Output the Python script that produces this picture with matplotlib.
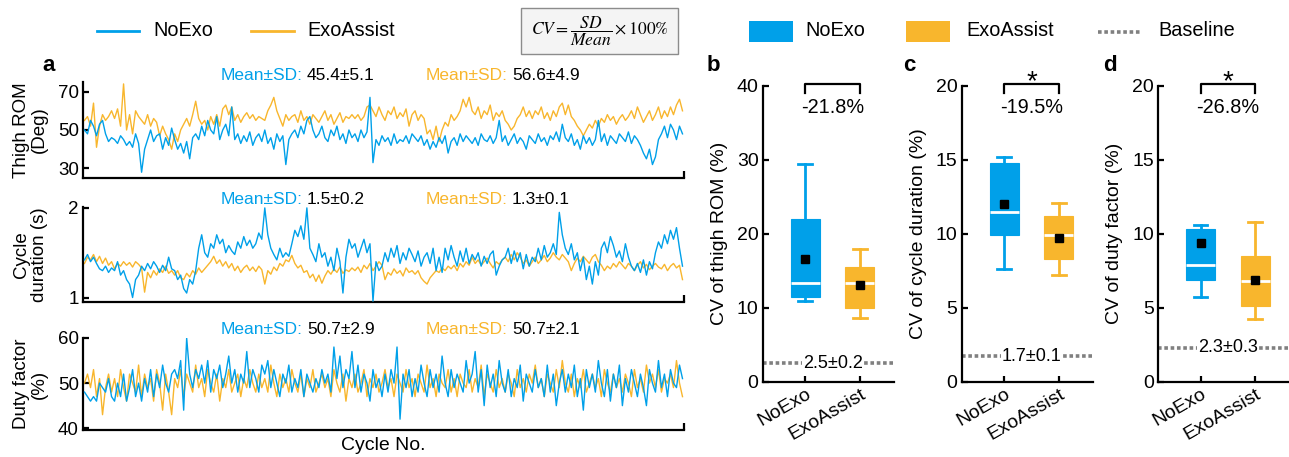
import numpy as np
import matplotlib
matplotlib.use('Agg')
import matplotlib.pyplot as plt
from matplotlib.lines import Line2D
from matplotlib.patches import Rectangle

plt.rcParams['font.family'] = ['Liberation Sans', 'DejaVu Sans']
plt.rcParams['mathtext.fontset'] = 'stix'

BLUE = '#00A0E9'
ORANGE = '#F8B62D'
GRAY = '#808080'

groups = ['NoExo', 'ExoAssist']

# ---------------- panel a: per-cycle series ----------------
thigh_noexo = [
    50, 48, 55, 52, 47, 53, 55, 48, 44, 46,
    45, 43, 47, 45, 42, 44, 41, 48, 43, 28,
    40, 45, 50, 44, 47, 48, 40, 46, 42, 51,
    45, 40, 43, 38, 44, 35, 46, 48, 45, 52,
    47, 55, 50, 48, 57, 45, 50, 53, 47, 62,
    45, 48, 43, 47, 44, 49, 42, 46, 48, 44,
    50, 43, 46, 40, 48, 44, 47, 32, 45, 48,
    50, 46, 52, 48, 55, 57, 50, 46, 48, 52,
    46, 44, 50, 47, 52, 45, 48, 43, 50, 46,
    48, 44, 50, 46, 49, 67, 33, 45, 42, 47,
    44, 46, 42, 48, 43, 45, 44, 47, 43, 48,
    46, 44, 47, 42, 45, 40, 44, 41, 46, 43,
    47, 38, 44, 46, 42, 48, 44, 47, 45, 43,
    46, 42, 48, 45, 44, 47, 43, 46, 55, 44,
    47, 42, 45, 48, 43, 46, 44, 40, 47, 45,
    43, 48, 44, 46, 42, 47, 45, 49, 44, 53,
    46, 44, 48, 42, 45, 40, 47, 43, 46, 42,
    45, 55, 44, 48, 42, 47, 45, 43, 48, 46,
    44, 49, 43, 47, 45, 42, 38, 35, 40, 32,
    36, 45, 48, 52, 46, 53, 50, 45, 52, 48,
]
thigh_exo = [
    55, 57, 52, 64, 41, 52, 58, 55, 57, 60,
    56, 61, 52, 74, 50, 58, 48, 60, 57, 55,
    53, 58, 52, 56, 54, 47, 52, 48, 45, 40,
    48, 44, 50, 53, 56, 52, 58, 65, 56, 53,
    55, 50, 57, 53, 58, 52, 61, 63, 58, 62,
    55, 58, 54, 57, 59, 56, 58, 55, 57, 56,
    55, 60, 63, 67, 60, 56, 52, 58, 55, 57,
    58, 54, 60, 55, 57, 53, 58, 56, 54, 57,
    60, 55, 58, 53, 56, 59, 54, 57, 56, 58,
    56, 58, 55, 57, 62, 63, 60, 57, 62, 58,
    55, 60, 58, 62, 56, 59, 57, 61, 52, 58,
    60, 55, 58, 56, 48, 50, 45, 52, 44, 50,
    54, 52, 58, 55, 57, 60, 66, 62, 67, 60,
    58, 62, 56, 60, 58, 63, 55, 59, 57, 60,
    55, 53, 50, 52, 56, 58, 62, 57, 60, 56,
    60, 58, 62, 56, 59, 55, 60, 57, 62, 64,
    58, 63, 57, 55, 52, 50, 47, 50, 53, 51,
    55, 52, 56, 54, 58, 55, 57, 53, 56, 58,
    55, 57, 60, 56, 62, 58, 54, 57, 60, 55,
    58, 62, 56, 60, 57, 62, 58, 63, 66, 60,
]
dur_noexo = [
    1.42, 1.48, 1.40, 1.45, 1.38, 1.32, 1.30, 1.35, 1.28, 1.33,
    1.30, 1.40, 1.25, 1.30, 1.20, 1.15, 1.00, 1.20, 1.25, 1.35,
    1.30, 1.38, 1.32, 1.40, 1.35, 1.28, 1.36, 1.30, 1.45, 1.32,
    1.30, 1.20, 1.25, 1.10, 1.05, 1.20, 1.15, 1.30, 1.55, 1.70,
    1.50, 1.45, 1.60, 1.55, 1.70, 1.60, 1.65, 1.50, 1.58, 1.52,
    1.48, 1.62, 1.55, 1.68, 1.58, 1.64, 1.55, 1.60, 1.72, 1.65,
    2.00, 1.70, 1.55, 1.48, 1.42, 1.55, 1.45, 1.50, 1.46, 1.60,
    1.75, 1.68, 1.80, 1.65, 2.00, 1.55, 1.48, 1.40, 1.60, 1.45,
    1.50, 1.35, 1.45, 1.30, 1.55, 1.40, 1.05, 1.45, 1.65, 1.55,
    1.60, 1.45, 1.55, 1.65, 1.50, 1.60, 0.96, 1.40, 1.30, 1.35,
    1.50, 1.40, 1.55, 1.45, 1.58, 1.38, 1.50, 1.42, 1.55, 1.48,
    1.40, 1.52, 1.35, 1.45, 1.50, 1.38, 1.55, 1.30, 1.45, 1.28,
    1.55, 1.42, 1.58, 1.45, 1.35, 1.52, 1.40, 1.55, 1.38, 1.48,
    1.42, 1.50, 1.35, 1.46, 1.38, 1.48, 1.52, 1.25, 1.35, 1.42,
    1.45, 1.55, 1.38, 1.52, 1.40, 1.50, 1.32, 1.48, 1.35, 1.45,
    1.40, 1.55, 1.42, 1.58, 1.45, 1.50, 1.60, 1.48, 1.95, 1.70,
    1.55, 1.48, 1.60, 1.42, 1.50, 1.30, 1.45, 1.20, 1.35, 1.15,
    1.40, 1.25, 1.55, 1.62, 1.50, 1.68, 1.58, 1.45, 1.52, 1.40,
    1.60, 1.45, 1.35, 1.30, 1.38, 1.28, 1.42, 1.25, 1.40, 1.32,
    1.50, 1.62, 1.55, 1.70, 1.60, 1.75, 1.65, 1.78, 1.55, 1.35,
]
dur_exo = [
    1.38, 1.45, 1.42, 1.48, 1.40, 1.46, 1.38, 1.44, 1.36, 1.40,
    1.32, 1.38, 1.35, 1.40, 1.36, 1.39, 1.34, 1.40, 1.37, 1.33,
    1.06, 1.28, 1.22, 1.30, 1.25, 1.32, 1.28, 1.35, 1.27, 1.30,
    1.25, 1.30, 1.22, 1.20, 1.27, 1.23, 1.30, 1.26, 1.33, 1.28,
    1.32, 1.36, 1.40, 1.46, 1.38, 1.42, 1.35, 1.40, 1.33, 1.38,
    1.30, 1.35, 1.28, 1.33, 1.36, 1.30, 1.34, 1.29, 1.35, 1.31,
    1.15, 1.30, 1.26, 1.34, 1.30, 1.38, 1.35, 1.42, 1.40, 1.47,
    1.38, 1.33, 1.36, 1.28, 1.30, 1.22, 1.26, 1.18, 1.25, 1.16,
    1.24, 1.30, 1.26, 1.32, 1.28, 1.34, 1.27, 1.31, 1.29, 1.33,
    1.30, 1.34, 1.28, 1.36, 1.32, 1.38, 1.30, 1.35, 1.40, 1.36,
    1.20, 1.28, 1.25, 1.32, 1.27, 1.30, 1.24, 1.33, 1.28, 1.30,
    1.26, 1.30, 1.22, 1.18, 1.15, 1.22, 1.26, 1.30, 1.28, 1.33,
    1.30, 1.35, 1.32, 1.36, 1.30, 1.38, 1.34, 1.40, 1.36, 1.45,
    1.38, 1.42, 1.36, 1.40, 1.44, 1.38, 1.33, 1.40, 1.37, 1.42,
    1.45, 1.40, 1.48, 1.42, 1.50, 1.45, 1.38, 1.42, 1.35, 1.40,
    1.45, 1.38, 1.42, 1.47, 1.40, 1.44, 1.50, 1.45, 1.42, 1.48,
    1.44, 1.40, 1.30, 1.38, 1.44, 1.40, 1.46, 1.42, 1.38, 1.45,
    1.48, 1.40, 1.36, 1.30, 1.35, 1.32, 1.38, 1.34, 1.40, 1.36,
    1.32, 1.38, 1.35, 1.30, 1.36, 1.40, 1.33, 1.37, 1.31, 1.35,
    1.38, 1.34, 1.32, 1.37, 1.30, 1.35, 1.38, 1.33, 1.36, 1.20,
]
duty_noexo = [
    48, 47, 46, 47, 46, 50, 49, 48, 51, 47,
    46, 50, 47, 52, 46, 49, 53, 47, 50, 46,
    51, 48, 53, 47, 52, 49, 54, 50, 48, 52,
    53, 51, 55, 44, 60, 52, 49, 53, 51, 54,
    50, 55, 48, 53, 51, 54, 49, 52, 56, 50,
    53, 48, 52, 50, 57, 49, 53, 51, 48, 54,
    52, 55, 49, 53, 50, 47, 52, 50, 54, 48,
    51, 49, 53, 47, 52, 50, 48, 51, 49, 53,
    50, 52, 48, 58, 51, 56, 49, 53, 51, 57,
    49, 54, 48, 52, 50, 46, 53, 49, 51, 47,
    52, 48, 53, 50, 58, 42, 52, 49, 53, 47,
    51, 48, 54, 50, 47, 53, 49, 52, 48, 56,
    50, 47, 53, 49, 52, 50, 48, 55, 50, 52,
    57, 48, 53, 45, 54, 49, 52, 47, 55, 50,
    48, 53, 47, 51, 49, 54, 46, 52, 50, 48,
    53, 49, 51, 47, 54, 48, 52, 45, 50, 53,
    48, 52, 49, 54, 47, 51, 44, 53, 49, 52,
    48, 55, 50, 47, 53, 46, 52, 49, 54, 45,
    51, 48, 53, 50, 47, 52, 49, 45, 53, 50,
    48, 55, 49, 52, 47, 53, 50, 49, 54, 51,
]
duty_exo = [
    50, 52, 49, 53, 47, 51, 43, 49, 52, 48,
    51, 47, 53, 49, 46, 52, 50, 48, 54, 47,
    52, 49, 51, 46, 53, 50, 44, 52, 48, 43,
    51, 49, 53, 47, 52, 50, 48, 54, 49, 51,
    47, 53, 50, 48, 52, 46, 51, 49, 53, 48,
    50, 52, 47, 51, 49, 53, 50, 48, 52, 49,
    51, 48, 54, 50, 47, 52, 49, 51, 48, 53,
    50, 48, 52, 47, 51, 49, 53, 48, 50, 52,
    49, 51, 47, 53, 50, 48, 52, 46, 51, 49,
    52, 48, 50, 53, 47, 51, 49, 52, 48, 50,
    53, 49, 51, 47, 52, 50, 48, 53, 49, 51,
    47, 52, 50, 48, 54, 49, 51, 47, 52, 50,
    49, 53, 48, 51, 47, 52, 50, 49, 53, 48,
    51, 49, 54, 47, 52, 50, 48, 53, 49, 51,
    48, 52, 50, 47, 53, 49, 51, 48, 52, 50,
    54, 49, 51, 47, 52, 50, 48, 53, 49, 55,
    50, 48, 52, 47, 51, 49, 53, 48, 50, 52,
    49, 51, 47, 53, 50, 48, 52, 49, 51, 48,
    52, 50, 47, 53, 49, 51, 48, 54, 50, 52,
    49, 53, 48, 51, 50, 52, 49, 55, 50, 47,
]

series_noexo = [thigh_noexo, dur_noexo, duty_noexo]
series_exo = [thigh_exo, dur_exo, duty_exo]
series_labels = ['Thigh ROM\n(Deg)', 'Cycle\nduration (s)', 'Duty factor\n(%)']
series_ylims = [(25, 75), (0.95, 2.01), (39.6, 60)]
series_yticks = [[30, 50, 70], [1, 2], [40, 50, 60]]
meansd_noexo = ['45.4±5.1', '1.5±0.2', '50.7±2.9']
meansd_exo = ['56.6±4.9', '1.3±0.1', '50.7±2.1']

# ---------------- panels b-d: CV box plots ----------------
cv_labels = ['CV of thigh ROM (%)', 'CV of cycle duration (%)', 'CV of duty factor (%)']
cv_ymax = [40, 20, 20]
cv_yticks = [[0, 10, 20, 30, 40], [0, 5, 10, 15, 20], [0, 5, 10, 15, 20]]
cv_whislo_noexo = [10.9, 7.6, 5.7]
cv_q1_noexo = [11.5, 9.9, 6.9]
cv_med_noexo = [13.4, 11.5, 7.9]
cv_q3_noexo = [22.0, 14.8, 10.3]
cv_whishi_noexo = [29.4, 15.2, 10.6]
cv_mean_noexo = [16.6, 12.0, 9.4]
cv_whislo_exo = [8.6, 7.2, 4.2]
cv_q1_exo = [10.0, 8.3, 5.1]
cv_med_exo = [13.3, 9.9, 6.8]
cv_q3_exo = [15.5, 11.2, 8.5]
cv_whishi_exo = [18.0, 12.1, 10.8]
cv_mean_exo = [13.1, 9.7, 6.9]
baseline_mean = [2.5, 1.7, 2.3]
baseline_sd = [0.2, 0.1, 0.3]
pct_change = ['-21.8%', '-19.5%', '-26.8%']
significance = ['', '*', '*']

# ---------------- figure ----------------
W, H = 1289, 457
fig = plt.figure(figsize=(W / 100, H / 100), dpi=100)


def fx(px):
    return px / W


def fy(py):
    return 1 - py / H


def style_axes(ax, lsize):
    for s in ['top', 'right']:
        ax.spines[s].set_visible(False)
    for s in ['left', 'bottom']:
        ax.spines[s].set_linewidth(1.6)
        ax.spines[s].set_color('black')
    ax.tick_params(direction='in', length=4, width=1.6, labelsize=lsize, pad=3)


rows_px = [(82, 178), (207, 302), (338, 430)]
text_y_px = [76, 200, 330]
N = len(thigh_noexo)
x = np.arange(1, N + 1)
for i in range(3):
    top, bot = rows_px[i]
    ax = fig.add_axes([fx(83), fy(bot), fx(684) - fx(83), (bot - top) / H])
    style_axes(ax, 13.5)
    ax.plot(x, series_exo[i], color=ORANGE, lw=1.0, zorder=2)
    ax.plot(x, series_noexo[i], color=BLUE, lw=1.0, zorder=3)
    ax.set_xlim(0.5, N + 0.5)
    ax.set_ylim(*series_ylims[i])
    ax.set_yticks(series_yticks[i])
    ax.set_yticklabels([str(v) for v in series_yticks[i]])
    ax.set_xticks([N + 0.5])
    ax.set_xticklabels([])
    ax.tick_params(axis='x', length=5)
    ax.set_ylabel(series_labels[i], fontsize=13.5, va='center', linespacing=1.1)
    ax.yaxis.set_label_coords(-0.087, 0.5)
    yy = fy(text_y_px[i])
    fig.text(fx(303), yy, 'Mean±SD:', color=BLUE, fontsize=12.5, ha='right', va='center')
    fig.text(fx(307), yy, meansd_noexo[i], color='black', fontsize=12.5, ha='left', va='center')
    fig.text(fx(508), yy, 'Mean±SD:', color=ORANGE, fontsize=12.5, ha='right', va='center')
    fig.text(fx(512), yy, meansd_exo[i], color='black', fontsize=12.5, ha='left', va='center')
    if i == 2:
        ax.set_xlabel('Cycle No.', fontsize=14, va='center')
        ax.xaxis.set_label_coords(0.5, -(445 - 430) / (bot - top))

box_left_px = [762.7, 961.7, 1158]
box_bot_px, box_top_px = 381.5, 86
colors = [BLUE, ORANGE]
for i in range(3):
    ax = fig.add_axes([fx(box_left_px[i]), fy(box_bot_px), 131 / W, (box_bot_px - box_top_px) / H])
    style_axes(ax, 14)
    stats = [
        dict(med=cv_med_noexo[i], q1=cv_q1_noexo[i], q3=cv_q3_noexo[i],
             whislo=cv_whislo_noexo[i], whishi=cv_whishi_noexo[i],
             mean=cv_mean_noexo[i], fliers=[], label=groups[0]),
        dict(med=cv_med_exo[i], q1=cv_q1_exo[i], q3=cv_q3_exo[i],
             whislo=cv_whislo_exo[i], whishi=cv_whishi_exo[i],
             mean=cv_mean_exo[i], fliers=[], label=groups[1]),
    ]
    bp = ax.bxp(stats, positions=[1, 2], widths=0.53, capwidths=0.25,
                patch_artist=True, showmeans=True, showfliers=False,
                manage_ticks=False,
                medianprops=dict(color='white', lw=2),
                meanprops=dict(marker='s', markerfacecolor='black',
                               markeredgecolor='black', markersize=6))
    for j, c in enumerate(colors):
        bp['boxes'][j].set_facecolor(c)
        bp['boxes'][j].set_edgecolor(c)
        bp['boxes'][j].set_linewidth(0.8)
        for k in (2 * j, 2 * j + 1):
            bp['whiskers'][k].set_color(c)
            bp['whiskers'][k].set_linewidth(2)
            bp['caps'][k].set_color(c)
            bp['caps'][k].set_linewidth(2)
    for m in bp['means']:
        m.set_zorder(5)
    ax.axhline(baseline_mean[i], color=GRAY, lw=2.6, ls=(0, (1, 0.75)), zorder=1)
    ax.text(1.5, baseline_mean[i], f'{baseline_mean[i]}±{baseline_sd[i]}',
            ha='center', va='center', fontsize=13, zorder=2,
            bbox=dict(boxstyle='square,pad=0.05', fc='white', ec='none'))
    ymax = cv_ymax[i]
    ax.set_xlim(0.22, 2.62)
    ax.set_ylim(0, ymax)
    ax.set_yticks(cv_yticks[i])
    ax.set_xticks([1, 2])
    ax.set_xticklabels(groups, rotation=30, ha='right', rotation_mode='anchor', fontsize=14)
    ax.set_ylabel(cv_labels[i], fontsize=14, va='center')
    ax.yaxis.set_label_coords(-0.33, 0.5)
    ax.plot([1, 1, 2, 2], [0.976 * ymax, 1.006 * ymax, 1.006 * ymax, 0.976 * ymax],
            color='black', lw=1.6, clip_on=False)
    ax.text(1.5, 0.927 * ymax, pct_change[i], ha='center', va='center', fontsize=14.3)
    if significance[i]:
        ax.text(1.5, 1.012 * ymax, significance[i], ha='center', va='center',
                fontsize=20, clip_on=False)

# panel letters
for lab, px in zip(['a', 'b', 'c', 'd'], [42, 707, 903, 1103]):
    fig.text(fx(px), fy(71), lab, fontsize=16, fontweight='bold', ha='left', va='baseline')

# left legend (lines)
for (x0, x1, tx), c, lab in zip([(97, 139, 153), (251, 294, 307)], colors, groups):
    fig.add_artist(Line2D([fx(x0), fx(x1)], [fy(30.5), fy(30.5)], color=c, lw=2,
                          transform=fig.transFigure))
    fig.text(fx(tx), fy(30), lab, fontsize=14.3, ha='left', va='center')

# CV formula box
fig.add_artist(Rectangle((fx(521), fy(54)), fx(678) - fx(521), (54 - 8) / H,
                         transform=fig.transFigure, fc='#f4f4f4', ec='#8c8c8c', lw=1))
fig.text(fx(599.5), fy(31), r'$CV=\dfrac{SD}{Mean}\times100\%$', fontsize=12.6,
         ha='center', va='center')

# right legend (patches + baseline)
for (x0, x1, tx), c, lab in zip([(749, 793, 805), (906, 950, 966)], colors, groups):
    fig.add_artist(Rectangle((fx(x0), fy(42)), fx(x1) - fx(x0), 21 / H,
                             transform=fig.transFigure, fc=c, ec='none'))
    fig.text(fx(tx), fy(31), lab, fontsize=14.3, ha='left', va='center')
fig.add_artist(Line2D([fx(1098), fx(1140)], [fy(32), fy(32)], color=GRAY, lw=2.6,
                      ls=(0, (1, 0.75)), transform=fig.transFigure))
fig.text(fx(1158), fy(31), 'Baseline', fontsize=14.3, ha='left', va='center')

fig.savefig('out.png', dpi=100)
